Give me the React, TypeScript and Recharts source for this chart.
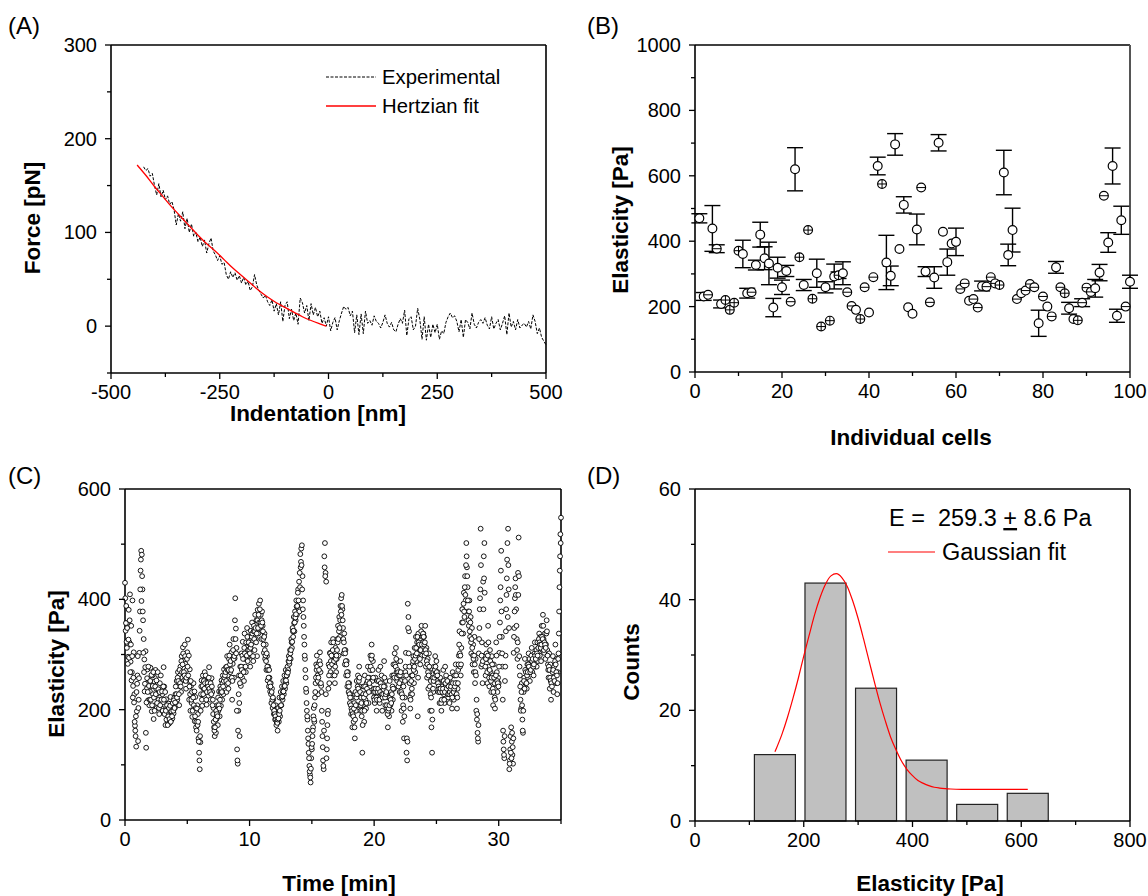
import React from 'react';
import { ComposedChart, Line, Scatter, Bar, XAxis, YAxis, ErrorBar, ReferenceLine } from 'recharts';

const FONT = "'Liberation Sans', Arial, Helvetica, sans-serif";

// ---------- Panel A : force vs indentation ----------
const indentStart = -425;
const indentStep = 5;
const forceExperimental = [
  170, 166, 168, 160, 163, 150, 140, 152, 138, 145, 135, 139, 130, 133, 124, 108, 120, 112, 122, 104,
  115, 100, 109, 96, 100, 90, 95, 85, 92, 78, 88, 94, 80, 76, 70, 75, 66, 68, 55, 50,
  58, 52, 57, 49, 54, 46, 52, 44, 48, 38, 42, 55, 44, 38, 34, 30, 33, 26, 22, 28,
  16, 24, 12, 26, 5, 22, 26, 8, 18, 6, 14, 2, 30, 25, 14, 22, 6, 24, 12, 20,
  10, 16, 3, 9, 0, 10, -5, 4, 9, -4, 6, 14, 21, 18, 20, 11, 16, -7, 12, -9,
  13, -8, 16, 3, 6, 1, 11, 5, 3, -2, 4, 12, 3, -1, 4, -4, -6, 2, 8, 3,
  17, -10, 8, 10, -4, 0, 19, 7, -14, 10, -15, 2, -12, 2, -7, 2, -14, -5, -8, 4,
  10, 14, 9, 11, 5, -6, 7, -12, 7, 4, -3, 14, 2, -2, 4, 7, 3, 9, 1, -3,
  10, -3, 3, 7, -4, 3, 11, -9, 14, -1, 5, -4, 7, -2, 1, 3, -1, 5, -3, 12,
  5, -8, -2, -12, -16, -20,
];
const fitIndentation = [-440, -420, -400, -380, -360, -340, -320, -300, -280, -260, -240, -220, -200, -180, -160, -140, -120, -100, -80, -60, -40, -20, -5];
const fitForce = [172, 161, 149, 138, 127, 117, 107, 97, 88, 80, 71, 62, 54, 46, 38, 31, 25, 20, 15, 10, 6, 2.5, 0];
const forceXTicks = [-500, -375, -250, -125, 0, 125, 250, 375, 500];
const forceXLabels = [-500, -250, 0, 250, 500];
const forceYTicks = [-50, 0, 50, 100, 150, 200, 250, 300];
const forceYLabels = [0, 100, 200, 300];

// ---------- Panel B : elasticity of individual cells ----------
const cellElasticity = [
  470, 231, 236, 439, 377, 208, 220, 190, 212, 371,
  361, 241, 244, 327, 420, 348, 332, 197, 319, 259,
  309, 215, 620, 351, 266, 434, 224, 302, 139, 259,
  157, 292, 296, 302, 244, 202, 190, 162, 259, 182,
  290, 630, 575, 335, 294, 696, 376, 511, 198, 178,
  436, 564, 307, 213, 289, 701, 429, 336, 393, 398,
  254, 271, 218, 223, 197, 263, 261, 290, 271, 266,
  610, 358, 434, 223, 241, 249, 269, 259, 149, 231,
  200, 170, 320, 259, 241, 195, 162, 158, 212, 258,
  245, 256, 304, 539, 396, 630, 172, 464, 200, 276,
];
const cellError = [
  14, 12, 0, 70, 12, 12, 0, 0, 0, 0,
  42, 15, 0, 15, 38, 35, 65, 28, 32, 22,
  17, 0, 66, 0, 17, 0, 0, 43, 0, 17,
  0, 38, 10, 35, 0, 0, 0, 0, 0, 0,
  0, 27, 0, 83, 30, 33, 0, 25, 0, 0,
  47, 0, 15, 0, 33, 25, 0, 40, 0, 42,
  0, 0, 0, 0, 0, 15, 0, 0, 0, 0,
  68, 33, 67, 0, 0, 0, 0, 0, 40, 0,
  0, 0, 18, 0, 0, 18, 0, 0, 12, 0,
  0, 27, 25, 0, 30, 55, 20, 43, 0, 20,
];
// o = open circle, p = circle with small crossed bar, m = circle with small horizontal bar
const cellMarker = [
  'o', 'o', 'm', 'o', 'm', 'o', 'p', 'p', 'p', 'p',
  'o', 'o', 'm', 'o', 'o', 'o', 'o', 'o', 'o', 'o',
  'o', 'm', 'o', 'p', 'o', 'p', 'p', 'o', 'p', 'o',
  'p', 'o', 'p', 'o', 'm', 'm', 'o', 'p', 'm', 'o',
  'm', 'o', 'p', 'o', 'o', 'o', 'o', 'o', 'o', 'o',
  'o', 'm', 'o', 'm', 'o', 'o', 'o', 'o', 'o', 'o',
  'm', 'm', 'o', 'm', 'm', 'o', 'm', 'm', 'm', 'p',
  'o', 'o', 'o', 'm', 'o', 'm', 'm', 'm', 'o', 'm',
  'o', 'm', 'o', 'm', 'p', 'o', 'o', 'p', 'm', 'm',
  'm', 'o', 'o', 'm', 'o', 'o', 'o', 'o', 'm', 'o',
];
const cellXTicks = [0, 10, 20, 30, 40, 50, 60, 70, 80, 90, 100];
const cellXLabels = [0, 20, 40, 60, 80, 100];
const cellYTicks = [0, 100, 200, 300, 400, 500, 600, 700, 800, 900, 1000];
const cellYLabels = [0, 200, 400, 600, 800, 1000];

// ---------- Panel C : elasticity over time (two interleaved sample sets, 20 per minute each) ----------
const samplesPerMinute = 20;
const elasticityByMinute = [
  [430, 343, 388, 312, 357, 296, 381, 322, 409, 287, 352, 268, 398, 243, 304, 228, 171, 152, 133, 197],
  [262, 143, 218, 303, 378, 452, 488, 481, 418, 362, 328, 291, 247, 306, 131, 238, 273, 217, 254, 208],
  [233, 276, 243, 197, 262, 228, 183, 251, 207, 272, 238, 203, 229, 263, 218, 192, 248, 213, 237, 202],
  [228, 213, 277, 242, 198, 172, 219, 193, 204, 178, 211, 175, 188, 223, 181, 203, 184, 212, 193, 221],
  [203, 228, 213, 252, 218, 268, 243, 208, 262, 278, 232, 297, 258, 313, 289, 253, 318, 283, 238, 272],
  [304, 327, 252, 218, 273, 198, 243, 212, 187, 232, 248, 203, 179, 223, 168, 162, 208, 192, 148, 122],
  [92, 141, 228, 253, 207, 262, 238, 223, 268, 232, 251, 209, 243, 258, 232, 277, 252, 218, 243, 257],
  [232, 218, 203, 168, 152, 192, 158, 183, 208, 172, 198, 233, 188, 242, 207, 253, 218, 262, 228, 273],
  [238, 253, 277, 232, 297, 262, 238, 292, 318, 268, 253, 304, 218, 283, 328, 258, 293, 402, 347, 312],
  [128, 102, 198, 262, 152, 278, 243, 302, 258, 323, 277, 252, 338, 292, 268, 313, 348, 288, 333, 297],
  [322, 278, 343, 298, 358, 323, 288, 352, 308, 372, 328, 362, 297, 381, 338, 392, 348, 398, 372, 328],
  [378, 352, 328, 303, 338, 292, 318, 272, 297, 253, 278, 242, 258, 233, 248, 212, 238, 203, 218, 192],
  [198, 182, 208, 172, 188, 162, 203, 178, 222, 188, 232, 208, 242, 218, 252, 228, 262, 238, 272, 248],
  [262, 278, 272, 297, 283, 308, 292, 328, 312, 348, 332, 368, 342, 378, 362, 398, 372, 388, 418, 382],
  [378, 422, 458, 492, 498, 442, 398, 352, 318, 292, 258, 232, 198, 182, 148, 122, 98, 82, 68, 112],
  [128, 152, 168, 203, 178, 222, 248, 282, 298, 262, 228, 283, 248, 304, 268, 243, 198, 152, 108, 92],
  [478, 502, 448, 432, 128, 172, 198, 282, 248, 303, 268, 322, 288, 262, 328, 297, 283, 248, 312, 268],
  [292, 328, 352, 298, 368, 332, 388, 402, 408, 382, 348, 302, 338, 282, 308, 262, 288, 242, 268, 232],
  [248, 212, 228, 192, 222, 168, 202, 178, 212, 148, 232, 198, 252, 208, 262, 228, 278, 242, 198, 222],
  [188, 122, 208, 242, 178, 262, 218, 202, 248, 232, 278, 212, 258, 242, 298, 272, 318, 252, 288, 232],
  [238, 212, 258, 232, 198, 252, 218, 272, 238, 212, 278, 228, 262, 198, 248, 222, 288, 242, 208, 252],
  [228, 202, 168, 222, 188, 252, 208, 232, 198, 262, 218, 282, 238, 302, 258, 312, 268, 252, 288, 242],
  [268, 232, 288, 252, 198, 262, 178, 242, 148, 222, 268, 303, 122, 108, 392, 368, 342, 248, 202, 228],
  [262, 228, 282, 297, 248, 312, 268, 332, 288, 322, 188, 338, 302, 308, 282, 328, 352, 298, 322, 338],
  [332, 298, 352, 278, 312, 258, 292, 238, 302, 268, 198, 252, 168, 122, 258, 232, 278, 252, 297, 268],
  [288, 252, 268, 232, 248, 212, 258, 232, 198, 242, 218, 272, 228, 212, 278, 242, 258, 232, 248, 222],
  [238, 212, 258, 232, 248, 202, 268, 242, 218, 262, 228, 282, 248, 202, 238, 272, 298, 342, 278, 262],
  [312, 358, 382, 338, 412, 368, 442, 398, 502, 458, 422, 378, 352, 398, 332, 368, 302, 348, 282, 318],
  [268, 332, 248, 292, 198, 182, 158, 142, 302, 348, 402, 528, 278, 322, 248, 432, 478, 502, 298, 262],
  [318, 292, 248, 352, 278, 242, 308, 268, 232, 297, 262, 208, 282, 248, 202, 238, 322, 268, 232, 258],
  [248, 303, 358, 422, 488, 332, 278, 162, 128, 112, 252, 298, 382, 438, 502, 528, 418, 92, 108, 152],
  [168, 142, 118, 102, 303, 348, 402, 438, 382, 328, 292, 448, 512, 297, 262, 218, 202, 248, 182, 158],
  [232, 258, 292, 248, 272, 238, 282, 258, 302, 268, 252, 288, 278, 312, 268, 297, 262, 288, 322, 278],
  [302, 278, 322, 288, 312, 338, 298, 332, 288, 352, 308, 372, 328, 303, 338, 292, 318, 362, 308, 282],
  [258, 302, 238, 282, 218, 272, 248, 297, 232, 278, 262, 318, 248, 292, 228, 268, 302, 378, 452, 518],
  [548],
];
const elasticityByMinuteB = [
  [402, 357, 323, 348, 283, 327, 294, 362, 268, 318, 253, 297, 222, 258, 213, 178, 162, 188, 232, 247],
  [297, 203, 257, 343, 418, 472, 397, 442, 378, 303, 268, 233, 277, 158, 213, 257, 232, 278, 243, 218],
  [252, 218, 263, 208, 243, 268, 222, 198, 242, 228, 253, 212, 268, 237, 203, 232, 208, 262, 218, 233],
  [198, 242, 218, 192, 232, 198, 182, 208, 172, 188, 203, 183, 207, 178, 197, 188, 212, 198, 217, 203],
  [213, 242, 228, 222, 258, 252, 228, 272, 248, 242, 288, 268, 282, 302, 268, 262, 297, 252, 258, 292],
  [278, 262, 298, 242, 228, 252, 218, 232, 198, 222, 208, 233, 188, 203, 178, 202, 172, 178, 142, 108],
  [152, 198, 242, 218, 243, 228, 252, 238, 248, 262, 218, 232, 248, 242, 258, 238, 232, 248, 228, 242],
  [208, 192, 178, 162, 168, 182, 198, 192, 188, 222, 208, 202, 218, 232, 238, 232, 248, 242, 252, 258],
  [262, 268, 252, 278, 272, 248, 272, 298, 282, 288, 272, 258, 252, 308, 292, 297, 362, 328, 302, 198],
  [108, 162, 228, 212, 248, 262, 278, 272, 298, 292, 268, 312, 302, 278, 322, 298, 332, 308, 322, 308],
  [302, 312, 318, 332, 338, 297, 342, 328, 342, 348, 322, 338, 362, 348, 372, 358, 382, 358, 352, 362],
  [358, 342, 318, 332, 308, 298, 288, 302, 278, 272, 258, 272, 248, 242, 228, 232, 218, 222, 208, 198],
  [192, 188, 182, 178, 176, 182, 184, 192, 198, 207, 208, 222, 224, 232, 233, 242, 243, 252, 253, 262],
  [268, 267, 288, 287, 293, 302, 308, 322, 323, 342, 343, 357, 358, 367, 373, 387, 388, 412, 398, 432],
  [448, 482, 468, 462, 418, 382, 368, 332, 298, 272, 238, 212, 188, 162, 138, 112, 88, 77, 93, 132],
  [138, 162, 188, 182, 208, 232, 258, 272, 278, 252, 258, 272, 288, 282, 248, 232, 178, 132, 98, 162],
  [458, 442, 228, 112, 148, 192, 238, 262, 278, 302, 288, 298, 282, 308, 322, 288, 262, 278, 292, 298],
  [308, 322, 328, 342, 348, 362, 378, 372, 388, 362, 328, 322, 308, 302, 288, 282, 268, 262, 248, 242],
  [228, 222, 208, 202, 198, 192, 188, 202, 168, 182, 208, 222, 228, 242, 238, 252, 258, 232, 208, 212],
  [198, 172, 228, 222, 198, 242, 228, 212, 238, 252, 258, 232, 248, 272, 278, 292, 298, 272, 258, 222],
  [218, 232, 238, 222, 218, 232, 238, 252, 218, 232, 248, 242, 228, 222, 228, 242, 258, 222, 228, 232],
  [208, 192, 198, 202, 208, 222, 218, 212, 228, 242, 238, 262, 258, 282, 278, 292, 258, 272, 268, 262],
  [248, 262, 268, 232, 228, 222, 208, 202, 188, 252, 278, 262, 148, 142, 348, 302, 278, 222, 218, 252],
  [238, 262, 288, 272, 278, 292, 298, 312, 302, 332, 258, 322, 318, 292, 308, 342, 318, 332, 338, 332],
  [318, 322, 308, 302, 288, 282, 268, 262, 278, 242, 228, 222, 198, 182, 238, 252, 258, 272, 278, 262],
  [268, 262, 248, 242, 238, 232, 238, 212, 218, 232, 238, 252, 218, 232, 248, 262, 238, 252, 228, 242],
  [228, 232, 238, 242, 228, 222, 248, 232, 238, 242, 248, 262, 228, 222, 248, 282, 318, 302, 298, 282],
  [338, 382, 358, 392, 378, 422, 408, 462, 478, 442, 398, 362, 378, 342, 358, 322, 328, 312, 298, 292],
  [298, 282, 268, 262, 218, 192, 148, 172, 328, 382, 418, 462, 298, 282, 288, 382, 438, 412, 278, 292],
  [302, 268, 298, 322, 258, 272, 288, 252, 258, 282, 238, 232, 258, 222, 218, 262, 298, 252, 248, 242],
  [278, 332, 398, 452, 378, 302, 218, 142, 118, 152, 278, 342, 408, 472, 368, 462, 348, 102, 128, 122],
  [112, 158, 132, 148, 332, 378, 422, 408, 352, 308, 322, 408, 442, 278, 242, 198, 232, 208, 162, 198],
  [252, 238, 272, 268, 248, 262, 268, 282, 278, 292, 268, 272, 298, 288, 292, 278, 282, 302, 298, 292],
  [308, 302, 298, 312, 328, 322, 318, 312, 318, 332, 328, 352, 308, 322, 318, 312, 338, 342, 298, 272],
  [278, 272, 258, 252, 248, 242, 268, 272, 258, 252, 288, 282, 268, 262, 248, 292, 338, 422, 478, 502],
];
const timeXTicks = [0, 5, 10, 15, 20, 25, 30, 35];
const timeXLabels = [0, 10, 20, 30];
const timeYTicks = [0, 100, 200, 300, 400, 500, 600];
const timeYLabels = [0, 200, 400, 600];

// ---------- Panel D : histogram ----------
const binCenters = [147, 240, 333, 426, 519, 612];
const binCounts = [12, 43, 24, 11, 3, 5];
const gaussX = [147, 150, 160, 170, 180, 190, 200, 210, 220, 230, 240, 250, 260, 270, 280, 290, 300, 310, 320, 330, 340, 350, 360, 370, 380, 390, 400, 410, 420, 430, 440, 450, 460, 470, 480, 490, 500, 520, 540, 560, 580, 600, 612];
const gaussY = [12.5, 13.2, 15.7, 18.7, 22.1, 25.8, 29.8, 33.6, 37.3, 40.4, 42.8, 44.3, 44.7, 44.0, 42.4, 39.8, 36.6, 32.9, 29.0, 25.1, 21.4, 18.1, 15.1, 12.8, 10.8, 9.3, 8.2, 7.3, 6.8, 6.4, 6.1, 5.95, 5.85, 5.78, 5.74, 5.72, 5.71, 5.7, 5.7, 5.7, 5.7, 5.7, 5.7];
const histXTicks = [0, 100, 200, 300, 400, 500, 600, 700, 800];
const histXLabels = [0, 200, 400, 600, 800];
const histYTicks = [0, 10, 20, 30, 40, 50, 60];
const histYLabels = [0, 20, 40, 60];

// ---------- derived tables ----------
const expData = forceExperimental.map((f, i) => ({ x: indentStart + i * indentStep, y: f }));
const fitData = fitIndentation.map((x, i) => ({ x, y: fitForce[i] }));
const cellData = cellElasticity.map((v, i) => ({ cell: i + 1, value: v, err: cellError[i], mk: cellMarker[i] }));
const timeData: { t: number; e: number }[] = [];
elasticityByMinute.forEach((row, m) => row.forEach((e, k) => timeData.push({ t: m + k / samplesPerMinute, e })));
elasticityByMinuteB.forEach((row, m) => row.forEach((e, k) => timeData.push({ t: m + (k + 0.5) / samplesPerMinute, e })));
const histData = binCenters.map((x, i) => ({ x, count: binCounts[i] }));
const gaussData = gaussX.map((x, i) => ({ x, y: gaussY[i] }));

// ---------- helpers ----------
const AX = { stroke: '#000', strokeWidth: 1.6 };

const makeXTick = (labels: number[]) => (props: any) => {
  const { x, y, payload } = props;
  const major = labels.includes(payload.value);
  return (
    <g>
      <line x1={x} y1={y} x2={x} y2={y + (major ? 6 : 4)} stroke="#000" strokeWidth={1.3} />
      {major && (
        <text x={x} y={y + 26} textAnchor="middle" fontSize={20} fontFamily={FONT} fill="#000">
          {payload.value}
        </text>
      )}
    </g>
  );
};

const makeYTick = (labels: number[]) => (props: any) => {
  const { x, y, payload } = props;
  const major = labels.includes(payload.value);
  return (
    <g>
      <line x1={x} y1={y} x2={x - (major ? 6 : 4)} y2={y} stroke="#000" strokeWidth={1.3} />
      {major && (
        <text x={x - 14} y={y + 7} textAnchor="end" fontSize={20} fontFamily={FONT} fill="#000">
          {payload.value}
        </text>
      )}
    </g>
  );
};

const W = 1148;
const H = 896;
const YW = 40;
const XH = 40;
const box = (L: number, T: number, R: number, B: number) => ({
  top: T,
  right: W - R,
  bottom: H - B - XH,
  left: L - YW,
});

const layer: React.CSSProperties = { position: 'absolute', left: 0, top: 0 };

const CellMarker = (props: any) => {
  const { cx, cy, payload } = props;
  if (cx == null || cy == null) return null;
  const r = 4.4;
  return (
    <g>
      <circle cx={cx} cy={cy} r={r} fill="#fff" stroke="#000" strokeWidth={1.2} />
      {payload.mk !== 'o' && <line x1={cx - r} y1={cy} x2={cx + r} y2={cy} stroke="#000" strokeWidth={1} />}
      {payload.mk === 'p' && <line x1={cx} y1={cy - r} x2={cx} y2={cy + r} stroke="#000" strokeWidth={1} />}
    </g>
  );
};

const TimeMarker = (props: any) => {
  const { cx, cy } = props;
  if (cx == null || cy == null) return null;
  return <circle cx={cx} cy={cy} r={2.4} fill="#fff" stroke="#000" strokeWidth={0.9} />;
};

const BIN_PX = 41;
const HistBar = (props: any) => {
  const { x, y, width, height } = props;
  if (x == null || y == null) return null;
  const cx = x + (width || 0) / 2;
  return <rect x={cx - BIN_PX / 2} y={y} width={BIN_PX} height={height} fill="#c0c0c0" stroke="#222" strokeWidth={1.2} />;
};

const titleStyle = { fontFamily: FONT, fontWeight: 700, fontSize: 22.5, fill: '#000' } as const;
const panelStyle = { fontFamily: FONT, fontSize: 24, fill: '#000' } as const;

export default function App() {
  return (
    <div style={{ position: 'absolute', left: 0, top: 0, width: W, height: H, background: '#fff' }}>
      {/* Panel A */}
      <div style={layer}>
        <ComposedChart width={W} height={H} margin={box(111, 45, 546, 373)}>
          <XAxis xAxisId="a" type="number" dataKey="x" domain={[-500, 500]} ticks={forceXTicks} interval={0}
            tickSize={0} tickMargin={0} tickLine={false} axisLine={AX} height={XH} tick={makeXTick(forceXLabels)} />
          <YAxis yAxisId="a" type="number" domain={[-50, 300]} ticks={forceYTicks} interval={0}
            tickSize={0} tickMargin={0} tickLine={false} axisLine={AX} width={YW} tick={makeYTick(forceYLabels)} />
          <ReferenceLine xAxisId="a" yAxisId="a" y={300} stroke="#000" strokeWidth={1.6} />
          <ReferenceLine xAxisId="a" yAxisId="a" x={500} stroke="#000" strokeWidth={1.6} />
          <Line xAxisId="a" yAxisId="a" data={expData} dataKey="y" type="linear" stroke="#000" strokeWidth={1}
            strokeDasharray="3 1.5" dot={false} isAnimationActive={false} />
          <Line xAxisId="a" yAxisId="a" data={fitData} dataKey="y" type="monotone" stroke="#ff0000" strokeWidth={1.3}
            dot={false} isAnimationActive={false} />
        </ComposedChart>
      </div>

      {/* Panel B */}
      <div style={layer}>
        <ComposedChart width={W} height={H} margin={box(695, 45, 1130, 372)}>
          <XAxis xAxisId="b" type="number" dataKey="cell" domain={[0, 100]} ticks={cellXTicks} interval={0}
            tickSize={0} tickMargin={0} tickLine={false} axisLine={AX} height={XH} tick={makeXTick(cellXLabels)} />
          <YAxis yAxisId="b" type="number" dataKey="value" domain={[0, 1000]} ticks={cellYTicks} interval={0}
            tickSize={0} tickMargin={0} tickLine={false} axisLine={AX} width={YW} tick={makeYTick(cellYLabels)} />
          <ReferenceLine xAxisId="b" yAxisId="b" y={1000} stroke="#000" strokeWidth={1.6} />
          <ReferenceLine xAxisId="b" yAxisId="b" x={100} stroke="#555" strokeWidth={2} />
          <Scatter xAxisId="b" yAxisId="b" data={cellData} dataKey="value" shape={(p: any) => <CellMarker {...p} />}
            isAnimationActive={false}>
            <ErrorBar dataKey="err" direction="y" width={8} stroke="#000" strokeWidth={1.4} />
          </Scatter>
        </ComposedChart>
      </div>

      {/* Panel C */}
      <div style={layer}>
        <ComposedChart width={W} height={H} margin={box(125, 489, 561, 820)}>
          <XAxis xAxisId="c" type="number" dataKey="t" domain={[0, 35]} ticks={timeXTicks} interval={0}
            tickSize={0} tickMargin={0} tickLine={false} axisLine={AX} height={XH} tick={makeXTick(timeXLabels)} />
          <YAxis yAxisId="c" type="number" dataKey="e" domain={[0, 600]} ticks={timeYTicks} interval={0}
            tickSize={0} tickMargin={0} tickLine={false} axisLine={AX} width={YW} tick={makeYTick(timeYLabels)} />
          <ReferenceLine xAxisId="c" yAxisId="c" y={600} stroke="#000" strokeWidth={1.6} />
          <ReferenceLine xAxisId="c" yAxisId="c" x={35} stroke="#000" strokeWidth={1.6} />
          <Scatter xAxisId="c" yAxisId="c" data={timeData} dataKey="e" shape={(p: any) => <TimeMarker {...p} />}
            isAnimationActive={false} />
        </ComposedChart>
      </div>

      {/* Panel D */}
      <div style={layer}>
        <ComposedChart width={W} height={H} data={histData} barSize={BIN_PX} margin={box(695, 489, 1130, 821)}>
          <XAxis xAxisId="d" type="number" dataKey="x" domain={[0, 800]} ticks={histXTicks} interval={0}
            tickSize={0} tickMargin={0} tickLine={false} axisLine={AX} height={XH} tick={makeXTick(histXLabels)} />
          <YAxis yAxisId="d" type="number" domain={[0, 60]} ticks={histYTicks} interval={0}
            tickSize={0} tickMargin={0} tickLine={false} axisLine={AX} width={YW} tick={makeYTick(histYLabels)} />
          <ReferenceLine xAxisId="d" yAxisId="d" y={60} stroke="#000" strokeWidth={1.6} />
          <ReferenceLine xAxisId="d" yAxisId="d" x={800} stroke="#000" strokeWidth={1.6} />
          <Bar xAxisId="d" yAxisId="d" dataKey="count" barSize={BIN_PX} shape={(p: any) => <HistBar {...p} />}
            isAnimationActive={false} />
          <Line xAxisId="d" yAxisId="d" data={gaussData} dataKey="y" type="monotone" stroke="#ff0000" strokeWidth={1.2}
            dot={false} isAnimationActive={false} />
        </ComposedChart>
      </div>

      {/* Texts: panel letters, axis titles, legends */}
      <svg width={W} height={H} style={{ ...layer, pointerEvents: 'none' }}>
        <text x={8} y={34} {...panelStyle}>(A)</text>
        <text x={587} y={34} {...panelStyle}>(B)</text>
        <text x={8} y={484} {...panelStyle}>(C)</text>
        <text x={587} y={484} {...panelStyle}>(D)</text>

        <text x={40} y={218} transform="rotate(-90 40 218)" textAnchor="middle" {...titleStyle}>Force [pN]</text>
        <text x={318} y={421} textAnchor="middle" {...titleStyle}>Indentation [nm]</text>
        <text x={628} y={220} transform="rotate(-90 628 220)" textAnchor="middle" {...titleStyle}>Elasticity [Pa]</text>
        <text x={911} y={445} textAnchor="middle" {...titleStyle}>Individual cells</text>
        <text x={64} y={664} transform="rotate(-90 64 664)" textAnchor="middle" {...titleStyle}>Elasticity [Pa]</text>
        <text x={339} y={891} textAnchor="middle" {...titleStyle}>Time [min]</text>
        <text x={639} y={662} transform="rotate(-90 639 662)" textAnchor="middle" {...titleStyle}>Counts</text>
        <text x={930} y={891} textAnchor="middle" {...titleStyle}>Elasticity [Pa]</text>

        <line x1={326} y1={77} x2={376} y2={77} stroke="#000" strokeWidth={1} strokeDasharray="3 1.5" />
        <text x={382} y={84} fontFamily={FONT} fontSize={20.3} fill="#000">Experimental</text>
        <line x1={326} y1={106} x2={376} y2={106} stroke="#ff0000" strokeWidth={1.3} />
        <text x={382} y={113} fontFamily={FONT} fontSize={20.3} fill="#000">Hertzian fit</text>

        <text x={889} y={526} fontFamily={FONT} fontSize={23.5} fill="#000" style={{ whiteSpace: 'pre' }}>
          {'E =  259.3 '}
          <tspan textDecoration="underline">+</tspan>
          {' 8.6 Pa'}
        </text>
        <line x1={888} y1={552} x2={935} y2={552} stroke="#ff0000" strokeWidth={1.2} />
        <text x={942} y={560} fontFamily={FONT} fontSize={23.5} fill="#000">Gaussian fit</text>
      </svg>
    </div>
  );
}
